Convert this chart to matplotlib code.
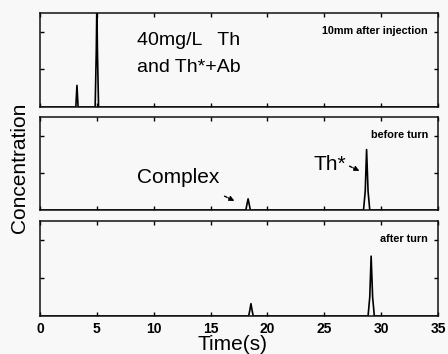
import matplotlib
matplotlib.use("Agg")
import matplotlib.pyplot as plt

plt.rcParams['font.family'] = ['Liberation Sans', 'DejaVu Sans']

# Panel 1: 10 min after injection
t1 = [0, 3.15, 3.25, 3.35, 4.85, 4.95, 5.0, 5.05, 5.15, 35]
c1 = [0, 0, 0.23, 0, 0, 0.6, 1.1, 0.6, 0, 0]
# Panel 2: before turn
t2 = [0, 18.1, 18.2, 18.3, 18.4, 18.5, 28.45, 28.6, 28.72, 28.85, 29.0, 35]
c2 = [0, 0, 0.06, 0.12, 0.06, 0, 0, 0.2, 0.65, 0.2, 0, 0]
# Panel 3: after turn
t3 = [0, 18.35, 18.45, 18.55, 18.65, 18.75, 28.85, 29.0, 29.12, 29.25, 29.4, 35]
c3 = [0, 0, 0.06, 0.13, 0.06, 0, 0, 0.2, 0.63, 0.2, 0, 0]

panel_labels = ["10mm after injection", "before turn", "after turn"]
xticks = [0, 5, 10, 15, 20, 25, 30, 35]
yticks = [0.4, 0.8]

W, H = 448, 354
fig = plt.figure(figsize=(W / 100, H / 100), dpi=100)
fig.patch.set_facecolor('#f8f8f8')

boxes = [(13, 107), (117, 210), (221, 316)]
left, right = 40, 438
series = [(t1, c1), (t2, c2), (t3, c3)]
axes = []
for i, ((top, bot), (t, c)) in enumerate(zip(boxes, series)):
    ax = fig.add_axes([left / W, 1 - bot / H, (right - left) / W, (bot - top) / H])
    ax.set_facecolor('#f8f8f8')
    ax.plot(t, c, color='black', lw=1.2)
    ax.set_xlim(0, 35)
    ax.set_ylim(0, 1)
    ax.set_xticks(xticks)
    ax.set_yticks(yticks)
    ax.tick_params(direction='in', top=True, right=True, length=3, width=1, colors='black')
    ax.set_yticklabels([])
    if i < 2:
        ax.set_xticklabels([])
    else:
        ax.set_xticklabels([str(v) for v in xticks], fontsize=10, fontweight='bold')
        ax.tick_params(axis='x', pad=4)
    for s in ax.spines.values():
        s.set_linewidth(1.1)
        s.set_color('#111111')
    ax.text(0.975, 0.81, panel_labels[i], transform=ax.transAxes, ha='right', va='center',
            fontsize=7.8, fontweight='bold')
    axes.append(ax)

fig.text(137 / W, 1 - 45 / H, "40mg/L   Th", fontsize=14, ha='left', va='baseline')
fig.text(137 / W, 1 - 72 / H, "and Th*+Ab", fontsize=14, ha='left', va='baseline')

fig.text(137 / W, 1 - 183 / H, "Complex", fontsize=15, ha='left', va='baseline')
fig.text(313 / W, 1 - 170 / H, "Th*", fontsize=15, ha='left', va='baseline')

arrow_kw = dict(arrowstyle='-|>', linestyle=(0, (2, 1)), color='black', lw=1, mutation_scale=7)
axes[1].annotate("", xy=(237 / W, 1 - 202 / H), xytext=(222 / W, 1 - 195 / H),
                 xycoords='figure fraction', textcoords='figure fraction', arrowprops=arrow_kw)
axes[1].annotate("", xy=(362 / W, 1 - 172 / H), xytext=(347 / W, 1 - 165 / H),
                 xycoords='figure fraction', textcoords='figure fraction', arrowprops=arrow_kw)

fig.text(20 / W, 1 - 168 / H, "Concentration", rotation=90, ha='center', va='center', fontsize=15)
fig.text(232 / W, 1 - 345 / H, "Time(s)", ha='center', va='center', fontsize=15)

fig.savefig("out.png", dpi=100, facecolor=fig.get_facecolor())
